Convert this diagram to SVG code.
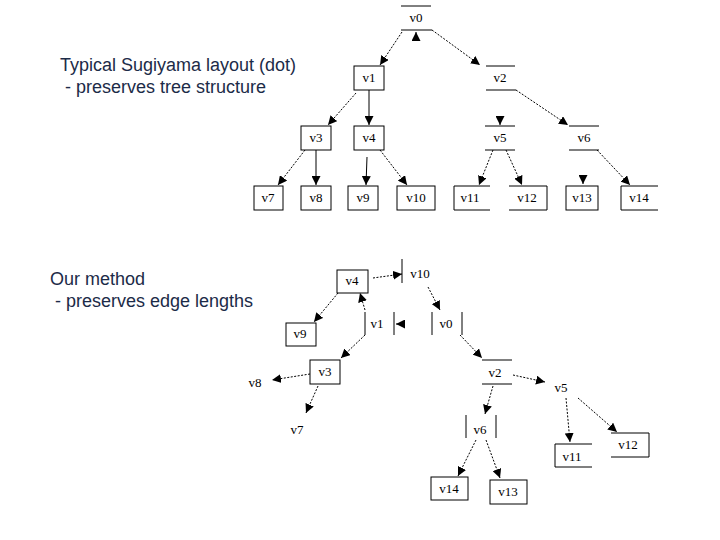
<svg xmlns="http://www.w3.org/2000/svg" width="720" height="540" viewBox="0 0 720 540">
<defs><marker id="a" viewBox="0 0 10 10" refX="10" refY="5" markerWidth="9" markerHeight="9" markerUnits="userSpaceOnUse" orient="auto"><path d="M0,0L10,5L0,10z" fill="#000"/></marker></defs>
<style>
.cap{font-family:"Liberation Sans",Arial,sans-serif;font-size:18px;fill:#1c2b48}
.t{font-family:"Liberation Serif","Times New Roman",serif;font-size:13px;fill:#000;text-anchor:middle}
.b{fill:none;stroke:#000;stroke-width:1}
.d{stroke:#000;stroke-width:1;stroke-dasharray:2,1.5;marker-end:url(#a);fill:none}
.s{stroke:#000;stroke-width:1;marker-end:url(#a);fill:none}
</style>
<rect width="720" height="540" fill="#fff"/>
<text class="cap" x="60" y="71">Typical Sugiyama layout (dot)</text>
<text class="cap" x="60" y="93" xml:space="preserve"> - preserves tree structure</text>
<text class="cap" x="50" y="285">Our method</text>
<text class="cap" x="50" y="307" xml:space="preserve"> - preserves edge lengths</text>
<g id="connectors">
<path class="d" d="M402,32L380,65"/><path class="s" d="M416,40.1L416,32"/>
<path class="d" d="M432,30L480,65"/>
<path class="d" d="M356,93L328,125"/><path class="s" d="M369,90L369,125"/>
<path class="s" d="M500,118L500,125"/>
<path class="d" d="M516,90L568,125"/>
<path class="d" d="M305,150L278,185"/><path class="s" d="M316,150L316,185"/>
<path class="s" d="M367,157L366,185"/><path class="d" d="M380,150L407,185"/>
<path class="d" d="M493,150L479,185"/><path class="d" d="M506,150L522,185"/>
<path class="s" d="M583,176L583,184"/><path class="d" d="M597,150L630,185"/>
<path class="d" d="M373,278L402,274"/><path class="d" d="M338,293L314,322"/>
<path class="s" d="M404,324L396,324"/><path class="d" d="M365,310L360,293"/>
<path class="d" d="M428,287L440,310"/><path class="d" d="M365,335L341,358"/>
<path class="d" d="M310,374L272,380"/><path class="d" d="M318,386L306,413"/>
<path class="d" d="M460,335L482,358"/><path class="d" d="M513,375L545,382"/>
<path class="d" d="M493,386L485,414"/><path class="d" d="M566,398L570,442"/>
<path class="d" d="M578,398L617,432"/><path class="d" d="M476,440L458,476"/>
<path class="d" d="M486,440L500,478"/>
</g>
<g id="t-v0"><path class="b" d="M401,6H431M401,30H432"/><text class="t" x="416" y="22">v0</text></g>
<g id="t-v1"><rect class="b" x="354" y="66" width="30" height="24"/><text class="t" x="369" y="82">v1</text></g>
<g id="t-v2"><path class="b" d="M486,66H515M486,90H516"/><text class="t" x="500" y="82">v2</text></g>
<g id="t-v3"><rect class="b" x="301" y="126" width="30" height="24"/><text class="t" x="316" y="142">v3</text></g>
<g id="t-v4"><rect class="b" x="354" y="126" width="30" height="24"/><text class="t" x="369" y="142">v4</text></g>
<g id="t-v5"><path class="b" d="M485,126H515M485,150H515"/><text class="t" x="500" y="142">v5</text></g>
<g id="t-v6"><path class="b" d="M569,126H599M569,150H599"/><text class="t" x="584" y="142">v6</text></g>
<g id="t-v7"><rect class="b" x="254" y="186" width="29" height="24"/><text class="t" x="268" y="202">v7</text></g>
<g id="t-v8"><rect class="b" x="301" y="186" width="30" height="24"/><text class="t" x="316" y="202">v8</text></g>
<g id="t-v9"><rect class="b" x="348" y="186" width="30" height="24"/><text class="t" x="363" y="202">v9</text></g>
<g id="t-v10"><rect class="b" x="397" y="186" width="38" height="24"/><text class="t" x="416" y="202">v10</text></g>
<g id="t-v11"><path class="b" d="M490,186H454V210H490"/><text class="t" x="470" y="202">v11</text></g>
<g id="t-v12"><path class="b" d="M509,186H547M509,210H547M547,186V210"/><text class="t" x="527" y="202">v12</text></g>
<g id="t-v13"><rect class="b" x="566" y="186" width="32" height="24"/><text class="t" x="582" y="202">v13</text></g>
<g id="t-v14"><path class="b" d="M658,186H621V210H658"/><text class="t" x="639" y="202">v14</text></g>
<g id="m-v4"><rect class="b" x="337" y="270" width="31" height="23"/><text class="t" x="352" y="285">v4</text></g>
<g id="m-v10"><path class="b" d="M402,259V283"/><text class="t" x="420" y="278">v10</text></g>
<g id="m-v9"><rect class="b" x="286" y="323" width="30" height="23"/><text class="t" x="300" y="338">v9</text></g>
<g id="m-v1"><path class="b" d="M365,312V335M394,312V335"/><text class="t" x="377" y="328">v1</text></g>
<g id="m-v0"><path class="b" d="M432,312V335M462,312V335"/><text class="t" x="446" y="328">v0</text></g>
<g id="m-v3"><rect class="b" x="310" y="360" width="30" height="24"/><text class="t" x="325" y="376">v3</text></g>
<g id="m-v8"><text class="t" x="255" y="387">v8</text></g>
<g id="m-v7"><text class="t" x="297" y="434">v7</text></g>
<g id="m-v2"><path class="b" d="M482,360H512M482,384H512"/><text class="t" x="495" y="377">v2</text></g>
<g id="m-v5"><text class="t" x="561" y="392">v5</text></g>
<g id="m-v6"><path class="b" d="M466,415V438M496,415V438"/><text class="t" x="480" y="434">v6</text></g>
<g id="m-v11"><path class="b" d="M592,444H555V467H592"/><text class="t" x="572" y="461">v11</text></g>
<g id="m-v12"><path class="b" d="M611,433H649V457H611"/><text class="t" x="628" y="449">v12</text></g>
<g id="m-v14"><rect class="b" x="431" y="477" width="37" height="23"/><text class="t" x="449" y="493">v14</text></g>
<g id="m-v13"><rect class="b" x="490" y="480" width="37" height="24"/><text class="t" x="508" y="496">v13</text></g>
</svg>
